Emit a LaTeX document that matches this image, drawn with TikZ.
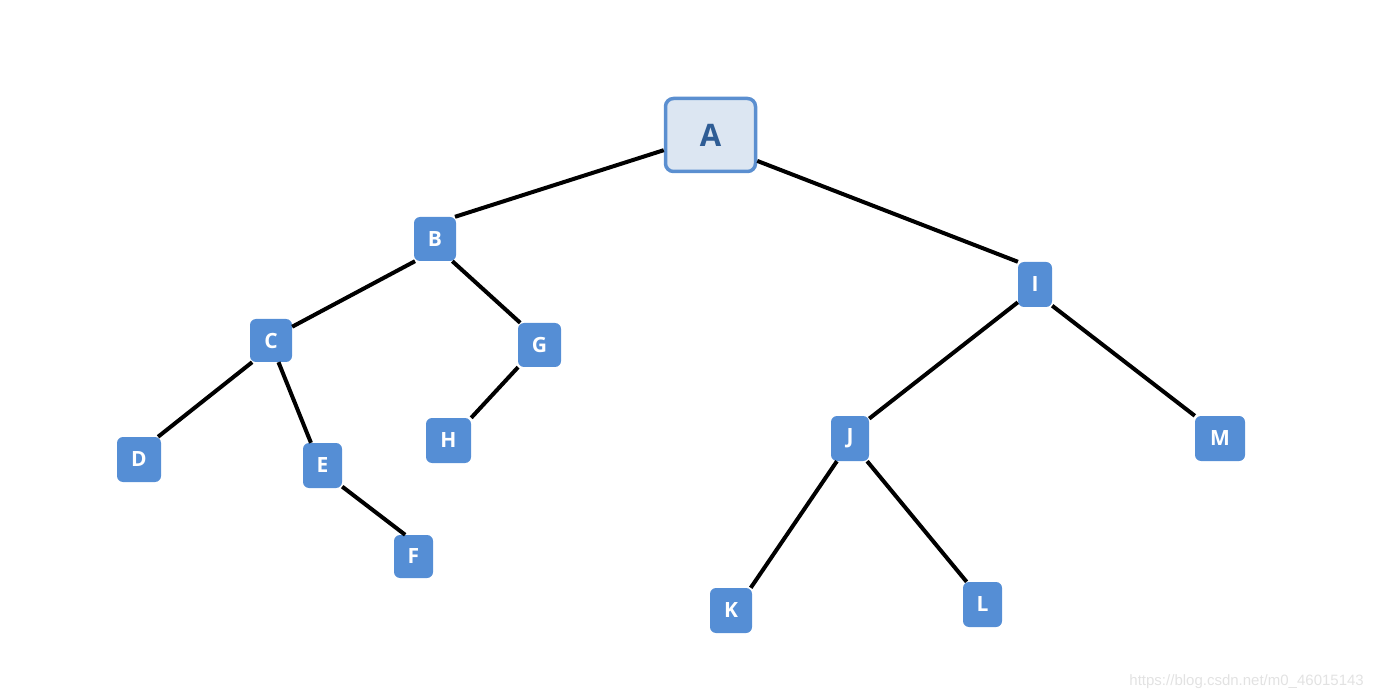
\documentclass[tikz,border=0pt]{standalone}
\usepackage{fontspec}
\setmainfont{Open Sans}
\newfontfamily\wmfont{Liberation Sans}
\definecolor{nodeblue}{HTML}{558ED5}
\definecolor{rootfill}{HTML}{DCE6F2}
\definecolor{rootborder}{HTML}{5B8FD0}
\definecolor{roottext}{HTML}{2F5D95}
\definecolor{wmgray}{HTML}{E2E2E2}
\begin{document}
\begin{tikzpicture}[x=1pt,y=-1pt,
  leaf/.style={fill=nodeblue, rounded corners=6pt, inner sep=0pt, text=white,
    font=\bfseries\fontsize{21}{21}\selectfont, anchor=center},
  rootbox/.style={fill=rootfill, draw=rootborder, line width=3.5pt, rounded corners=8pt,
    inner sep=0pt, text=roottext, font=\bfseries\fontsize{31}{31}\selectfont,
    minimum width=90pt, minimum height=73pt},
  edge/.style={line width=4pt, black}]
\useasboundingbox (0,0) rectangle (1373,700);
\node[rootbox] (A) at (710.5,135) {A};
\node[leaf, minimum width=42pt, minimum height=44pt] (B) at (435,239) {B};
\node[leaf, minimum width=42pt, minimum height=43pt] (C) at (271,340.5) {C};
\node[leaf, minimum width=43pt, minimum height=44pt] (G) at (539.5,345) {G};
\node[leaf, minimum width=44pt, minimum height=45pt] (D) at (139,459.5) {D};
\node[leaf, minimum width=39pt, minimum height=45pt] (E) at (322.5,465.5) {E};
\node[leaf, minimum width=45pt, minimum height=45pt] (H) at (448.5,440.5) {H};
\node[leaf, minimum width=39pt, minimum height=43pt] (F) at (413.5,556.5) {F};
\node[leaf, minimum width=34pt, minimum height=45pt] (I) at (1035,284.5) {I};
\node[leaf, minimum width=38pt, minimum height=45pt] (J) at (850,438.5) {J};
\node[leaf, minimum width=50pt, minimum height=45pt] (M) at (1220,438.5) {M};
\node[leaf, minimum width=42pt, minimum height=45pt] (K) at (731,610.5) {K};
\node[leaf, minimum width=39pt, minimum height=45pt] (L) at (982.5,604.5) {L};
\begin{scope}[edge]
\draw (A.198) -- (B.48);
\draw (A.331) -- (I.127);
\draw (B.228) -- (C.33);
\draw (B.308) -- (G.131);
\draw (C.229) -- (D.50);
\draw (C.289) -- (E.117);
\draw (E.313) -- (F.111);
\draw (G.226) -- (H.45);
\draw (I.226) -- (J.46);
\draw (I.309) -- (M.138);
\draw (J.240) -- (K.49);
\draw (J.307) -- (L.125);
\end{scope}
\node[anchor=east, text=wmgray, font=\wmfont\fontsize{15}{15}\selectfont, inner sep=0pt] (wm) at (1364,682) {https://blog.csdn.net/m0\_46015143};
\end{tikzpicture}
\end{document}
